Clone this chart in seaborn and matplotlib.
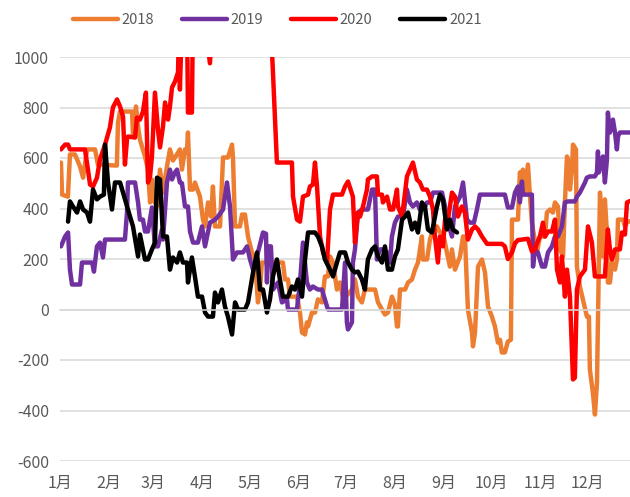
import matplotlib
matplotlib.use('Agg')
import matplotlib.pyplot as plt
import seaborn as sns
import pandas as pd

# 数据 (日序号, 数值)
days_2018 = [0.6, 1.3, 5, 6.3, 9.5, 12.7, 14.6, 17.1, 22.2, 24, 36, 36.7, 38, 45.6, 46.2, 48.1, 49.4, 50.6,
             53.8, 55.7, 57, 58.2, 58.9, 61.4, 63.3, 65.2, 67.7, 69.6, 71.5, 74, 75.9, 77.2, 79.1, 80.4, 81,
             82.3, 84.2, 85.4, 88.6, 90.5, 91.8, 93.7, 95.6, 96.8, 98.1, 101.3, 103.2, 106.3, 108.9, 109.5,
             110.8, 113.9, 115.2, 117.1, 119, 121.5, 123.4, 125.3, 126.6, 127.8, 141.1, 142.4, 144.3, 145.6,
             150, 151.9, 153.2, 155.1, 156.3, 157, 159.5, 161.4, 163.3, 165.8, 167.7, 169.6, 170.9, 172.8,
             175.3, 177.2, 179.1, 180.4, 184.8, 186.7, 188.6, 191.1, 193, 199.4, 201.3, 203.8, 205.7, 207.6,
             210.1, 212, 213.3, 213.9, 215.2, 218.4, 220.3, 222.8, 224.7, 226.6, 229.1, 229.7, 232.3, 234.2,
             236.1, 238.6, 240.5, 242.4, 244.9, 246.8, 248.1, 250, 253.2, 255.1, 256.3, 258.2, 260.8, 261.4,
             262.7, 264.6, 267.1, 269, 270.9, 273.4, 275.3, 277.2, 278.5, 279.7, 281.6, 283.5, 285.4, 286.1,
             289.9, 291.1, 292.4, 293, 294.3, 296.2, 297.5, 298.7, 299.4, 301.9, 303.8, 307, 308.2, 310.1,
             312, 313.3, 315.2, 316.5, 318.4, 319.6, 320.9, 321.5, 322.8, 324.1, 324.7, 326.6, 327.2, 329.1,
             333.5, 334.8, 335.4, 337.3, 338.6, 339.9, 341.8, 343.7, 344.9, 346.2, 346.8, 348.1, 349.4, 351.3,
             352.5, 353.2, 356.3, 357.6, 358.9, 360.8]
vals_2018 = [582, 455, 447, 614, 614, 566, 522, 634, 634, 574, 570, 740, 784, 784, 685, 804, 725, 673,
             606, 554, 424, 515, 436, 408, 554, 463, 566, 634, 590, 614, 634, 554, 634, 634, 701,
             475, 475, 503, 447, 356, 329, 424, 368, 487, 329, 329, 602, 602, 653, 600,
             329, 329, 376, 376, 289, 226, 198, 28, 80, 186, 186, 119, 119, 51,
             51, -12, -91, -99, -51, -67, -12, -12, 40, 28, 131, 131, 210, 186,
             79, 107, 47, 47, 79, 119, 51, 28, 79, 79, 28, 0, -20, -12,
             51, 20, -67, -67, 79, 79, 107, 119, 158, 186, 289, 198, 198, 277,
             317, 329, 305, 305, 226, 170, 238, 158, 210, 289, 289, 0, -91, -146,
             -91, 170, 198, 147, 12, -28, -67, -131, -120, -170, -170, -127, -120, 356,
             356, 543, 515, 554, 463, 574, 447, 344, 317, 226, 289, 289, 384, 396,
             384, 424, 408, 238, 210, 424, 606, 594, 475, 554, 653, 634, 170, 91,
             -28, -28, -238, -329, -416, -289, 463, 210, 436, 305, 107, 107, 186, 158,
             198, 356, 356, 330, 345, 350]

days_2019 = [0.6, 3.2, 5.1, 6.3, 7.6, 12.7, 13.9, 20.3, 21.5, 23.4, 25.3, 27.2, 28.5, 41.1, 42.4, 43, 47.5,
             49.4, 50.6, 52.5, 53.8, 55.7, 58.2, 60.1, 62, 64.6, 65.2, 67.7, 69.6, 70.9, 72.8, 74.1, 75.9,
             77.2, 79.1, 81, 82.3, 84.2, 87.3, 89.9, 91.8, 94.9, 98.1, 100, 103.2, 105.7, 107.6, 109.5, 112,
             115.8, 118.4, 120.3, 122.2, 125.3, 128.5, 130.4, 131, 131.6, 133.5, 134.8, 138, 140.5, 143.7,
             144.3, 150, 151.9, 153.8, 156.3, 158.2, 160.1, 163.3, 165.8, 167.7, 169.6, 178.5, 180.4, 181.6,
             182.3, 184.8, 185.4, 186.7, 188.6, 191.1, 194.9, 197.5, 199.4, 200.6, 202.5, 205, 207, 208.9,
             210.1, 212, 213.9, 217.1, 219.6, 221.5, 223.4, 225.9, 227.8, 230.4, 232.3, 234.2, 236.1, 241.8,
             243.7, 245.6, 248.1, 250, 253.2, 255.1, 257.6, 259.5, 262, 263.9, 265.8, 281.6, 283.5, 286.1,
             288, 289.9, 291.1, 292.4, 293, 298.7, 299.4, 300.6, 302.5, 305.1, 307, 308.9, 311.4, 313.3,
             315.2, 317.7, 319.6, 321.5, 325.9, 327.2, 329.1, 331, 332.3, 333.5, 335.4, 338.6, 339.9, 340.5,
             341.1, 343, 343.7, 344.9, 346.2, 346.8, 348.1, 350, 351.3, 352.5, 353.2, 354.4, 360.8]
vals_2019 = [250, 289, 305, 158, 99, 99, 186, 186, 150, 250, 265, 206, 277, 277, 384, 503, 503,
             424, 356, 356, 309, 309, 404, 250, 250, 317, 277, 503, 554, 515, 543, 554, 503,
             500, 408, 408, 309, 265, 265, 329, 250, 344, 356, 368, 396, 503, 408, 198, 226,
             226, 250, 198, 158, 226, 305, 300, 107, 250, 250, 79, 107, 28, 40,
             0, 0, 107, 265, 107, 79, 91, 79, 79, 40, 0, 0, 186, -51,
             -79, -51, 186, 238, 384, 396, 396, 475, 475, 198, 238, 238, 226, 186,
             289, 344, 368, 368, 475, 424, 408, 424, 396, 400, 424, 424, 463, 463,
             408, 344, 289, 408, 447, 503, 356, 344, 344, 396, 455, 455, 404, 404,
             463, 487, 424, 507, 455, 455, 170, 238, 226, 170, 170, 226, 250, 289,
             289, 329, 424, 428, 428, 447, 463, 487, 503, 522, 527, 527, 543, 626,
             543, 594, 606, 503, 594, 780, 701, 752, 701, 634, 685, 701, 701]

days_2020 = [0.6, 3.2, 5.1, 6.3, 15.8, 17.7, 19, 20.9, 23.4, 25.3, 28.5, 31.6, 33.5, 36.1, 38, 39.9, 41.1,
             42.4, 43, 47.5, 48.7, 50.6, 52.5, 54.4, 55.7, 57, 58.2, 60.1, 62, 63.3, 65.2, 66.5, 68.4, 69.6,
             70.9, 72.8, 74.7, 75.3, 75.9, 77.2, 80.4, 81, 83.5, 84.2, 91.8, 94.9, 96.8, 107.6, 132.9, 134.8,
             137.3, 146.8, 147.5, 150, 151.9, 153.8, 157, 158.2, 160.1, 161.4, 162.7, 164.6, 166.5, 169,
             170.9, 172.8, 178.5, 180.4, 182.3, 185.4, 186.7, 188.6, 189.9, 191.8, 194.3, 194.9, 197.5,
             200.6, 201.3, 203.8, 204.4, 207, 208.9, 210.8, 213.3, 213.9, 216.5, 218.4, 219.6, 221.5, 223.4,
             225.9, 227.8, 229.7, 232.3, 234.2, 236.1, 237.3, 239.2, 240.5, 242.4, 243.7, 245.6, 248.1, 250,
             251.9, 254.4, 256.3, 258.2, 260.8, 262.7, 264.6, 267.1, 270.3, 279.7, 281.6, 283.5, 286.1, 288,
             289.9, 296.2, 298.7, 300.6, 301.9, 303.8, 305.7, 307, 308.9, 311.4, 313.3, 314.6, 316.5, 317.7,
             319.6, 320.9, 322.8, 324.7, 325.9, 327.2, 329.1, 332.3, 334.2, 336.7, 338.6, 344.9, 346.8,
             348.1, 349.4, 351.3, 354.4, 355.7, 357.6, 358.9, 360.8]
vals_2020 = [634, 653, 653, 634, 634, 554, 495, 487, 522, 594, 653, 721, 800, 832, 804, 764, 574,
             673, 685, 681, 760, 752, 784, 859, 503, 527, 606, 859, 713, 642, 725, 820, 752, 804,
             879, 903, 939, 1100, 871, 1150, 1150, 780, 780, 1200, 1150, 975, 1150, 1300, 1200, 939,
             582, 582, 447, 356, 348, 447, 455, 487, 495, 582, 487, 289, 226, 186,
             396, 455, 455, 487, 507, 447, 265, 384, 368, 408, 475, 515, 527,
             527, 455, 455, 424, 447, 396, 396, 475, 408, 368, 463, 527, 554, 582,
             515, 503, 475, 475, 447, 396, 289, 186, 289, 250, 356, 356, 463, 447,
             368, 408, 384, 277, 317, 329, 317, 289, 260, 260, 250, 200, 226, 262,
             275, 280, 230, 238, 262, 289, 344, 289, 309, 309, 356, 158, 107, 210,
             51, 158, 51, -277, -270, 79, 131, 158, 329, 265, 131, 131, 317,
             238, 198, 238, 238, 305, 297, 424, 430]

days_2021 = [5.1, 6.3, 8.2, 10.8, 12.7, 14.6, 17.1, 19, 20.9, 23.4, 25.3, 27.8, 28.5, 30.4, 32.9, 34.8, 38,
             39.9, 43, 46.2, 49.4, 50.6, 53.8, 55.7, 58.2, 60.1, 61.4, 63.3, 65.2, 67.7, 69.6, 71.5, 74.1,
             75.9, 77.8, 80.4, 81, 83.5, 85.4, 87.3, 89.9, 91.8, 93.7, 96.8, 98.1, 100, 102.5, 104.4, 106.3,
             108.9, 110.8, 112.7, 117.1, 119, 122.2, 124.7, 126.6, 128.5, 131, 132.9, 134.8, 137.3, 139.2,
             141.1, 144.3, 146.8, 148.7, 150.6, 153.2, 155.1, 157, 161.4, 163.3, 165.8, 167.7, 170.9, 172.8,
             175.3, 177.2, 180.4, 182.3, 184.8, 186.7, 188.6, 191.1, 193, 194.9, 197.5, 199.4, 201.3, 203.8,
             205.7, 207.6, 210.1, 212, 213.9, 216.5, 218.4, 220.3, 222.8, 224.7, 226.6, 229.1, 231, 232.9,
             235.4, 238.6, 240.5, 242.4, 244.9, 246.8, 248.7, 251.3]
vals_2021 = [348, 428, 408, 384, 428, 396, 384, 348, 475, 436, 447, 455, 653, 503, 396, 503, 503,
             463, 396, 329, 210, 297, 198, 198, 238, 265, 522, 515, 289, 289, 158, 206, 186,
             226, 186, 186, 107, 206, 131, 51, 51, -12, -28, -28, 67, 28, 79, 12, -28,
             -99, 28, 0, 0, 28, 147, 226, 79, 79, -12, 40, 131, 198, 119,
             51, 51, 91, 79, 119, 51, 198, 305, 305, 289, 250, 198, 158, 131,
             186, 226, 226, 186, 158, 147, 150, 119, 79, 198, 238, 250, 210, 186,
             250, 158, 158, 210, 238, 356, 368, 384, 317, 344, 305, 424, 408, 317,
             305, 408, 455, 436, 317, 356, 317, 305]

month_starts = [0, 31, 59, 90, 120, 151, 181, 212, 243, 273, 304, 334]
month_labels = ['1月', '2月', '3月', '4月', '5月', '6月', '7月', '8月', '9月', '10月', '11月', '12月']
y_ticks = [-600, -400, -200, 0, 200, 400, 600, 800, 1000]

series = [
    ('2018', days_2018, vals_2018, '#ED7D31', 2.3),
    ('2019', days_2019, vals_2019, '#7030A0', 2.3),
    ('2020', days_2020, vals_2020, '#FF0000', 2.4),
    ('2021', days_2021, vals_2021, '#000000', 3.4),
]

sns.set_theme(style="white")
plt.rcParams['font.family'] = ['Noto Sans CJK SC', 'DejaVu Sans']
plt.rcParams['axes.unicode_minus'] = True

fig = plt.figure(figsize=(6.30, 4.97), dpi=100)
ax = fig.add_axes([60 / 630, 1 - 461 / 497, 570 / 630, 404 / 497])

for name, d, v, c, lw in series:
    df = pd.DataFrame({'day': d, 'value': v})
    sns.lineplot(data=df, x='day', y='value', ax=ax, color=c, linewidth=lw,
                 label=name, estimator=None, sort=False)

ax.set_xlim(0, 360.8)
ax.set_ylim(-600, 1000)
ax.set_yticks(y_ticks)
ax.set_yticklabels([str(t) for t in y_ticks])
ax.yaxis.grid(True, color='#D9D9D9', linewidth=1.1)
ax.set_axisbelow(True)
ax.tick_params(axis='y', length=0, labelsize=11.5, labelcolor='#595959', pad=8)
for s in ['top', 'right', 'left']:
    ax.spines[s].set_visible(False)

# 横轴在0处
ax.spines['bottom'].set_position(('data', 0))
ax.spines['bottom'].set_color('#D9D9D9')
ax.spines['bottom'].set_linewidth(1.1)
ax.set_xticks(month_starts)
ax.tick_params(axis='x', direction='out', length=4, width=1.1, color='#D9D9D9', labelbottom=False)
ax.set_xlabel('')
ax.set_ylabel('')

sec = ax.secondary_xaxis('bottom')
sec.set_xticks(month_starts, month_labels)
sec.tick_params(length=0, labelsize=11.5, labelcolor='#595959', pad=10)
sec.spines['bottom'].set_visible(False)

ax.legend_.remove()
handles, labels = ax.get_legend_handles_labels()
for h in handles:
    h.set_linewidth(3.2)
    h.set_solid_capstyle('round')
fig.legend(handles, labels, loc='center', bbox_to_anchor=(0.44, 0.96), ncol=4, frameon=False,
           fontsize=10.5, labelcolor='#595959', handlelength=3.1, handletextpad=0.25,
           columnspacing=1.9)

plt.savefig('out.png', dpi=100)
plt.close()
